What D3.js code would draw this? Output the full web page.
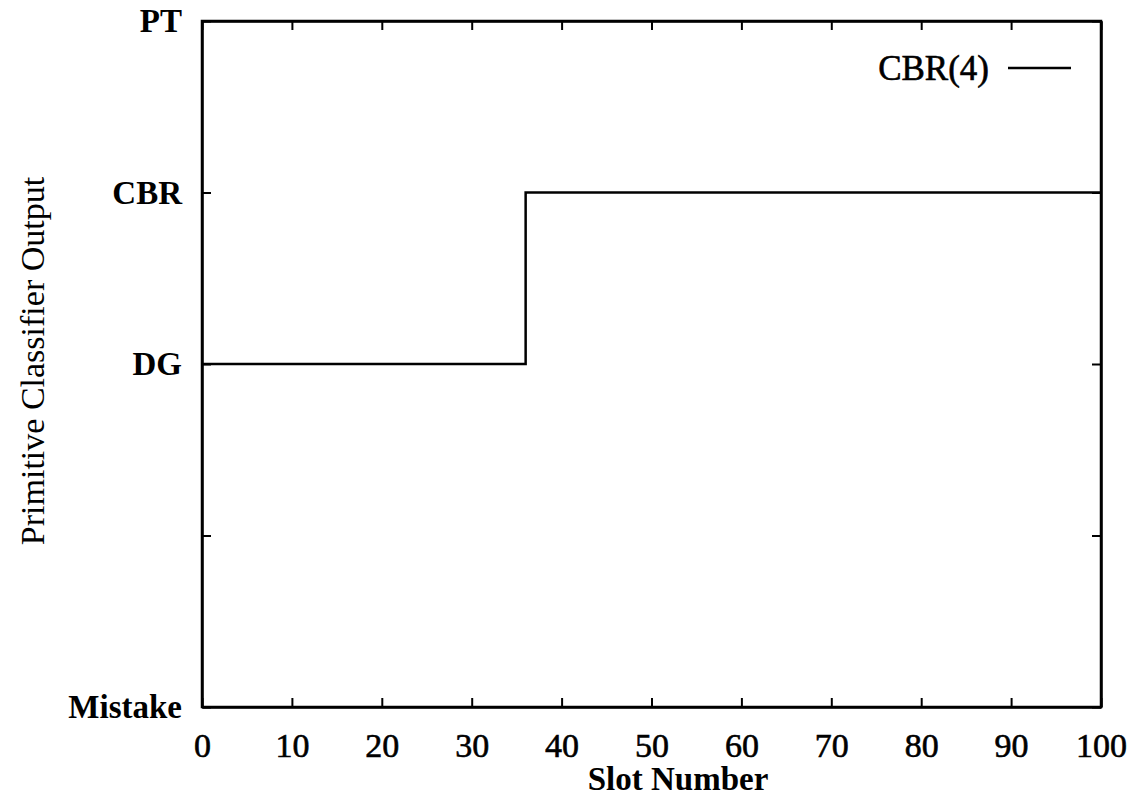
<!DOCTYPE html>
<html>
<head>
<meta charset="utf-8">
<script src="https://cdn.jsdelivr.net/npm/d3@7"></script>
<style>
  body { margin: 0; background: #fff; }
  text { font-family: "Liberation Serif", "Times New Roman", serif; fill: #000; }
</style>
</head>
<body>
<svg id="chart" width="1132" height="793"></svg>
<script>
// step data
const slots = [0, 36, 100];
const levels = [2, 3, 3];
const levelLabels = ["Mistake", "", "DG", "CBR", "PT"];
const xTicks = [0, 10, 20, 30, 40, 50, 60, 70, 80, 90, 100];
const seriesName = "CBR(4)";

const svg = d3.select("#chart");
const margin = { left: 202, right: 31, top: 21, bottom: 86 };
const width = +svg.attr("width");
const height = +svg.attr("height");
const innerWidth = width - margin.left - margin.right;
const innerHeight = height - margin.top - margin.bottom;

const x = d3.scaleLinear().domain([0, 100]).range([0, innerWidth]);
const y = d3.scaleLinear().domain([0, 4]).range([innerHeight, 0]);

const g = svg.append("g").attr("transform", "translate(" + margin.left + "," + margin.top + ")");

// bottom axis with labels
const xb = g.append("g")
    .attr("transform", "translate(0," + innerHeight + ")")
    .call(d3.axisBottom(x).tickValues(xTicks).tickSizeInner(-9).tickSizeOuter(0).tickPadding(26));
xb.selectAll("text").attr("font-size", 34).attr("stroke", "#000").attr("stroke-width", 0.6);

// top ticks only
g.append("g")
    .call(d3.axisTop(x).tickValues(xTicks).tickSizeInner(-9).tickSizeOuter(0))
  .selectAll("text").remove();

// left axis with category labels
const yl = g.append("g")
    .call(d3.axisLeft(y).tickValues([0, 1, 2, 3, 4]).tickSizeInner(-9).tickSizeOuter(0)
      .tickPadding(20).tickFormat(function(d) { return levelLabels[d]; }));
yl.selectAll("text").attr("font-size", 33).attr("font-weight", "bold");
yl.selectAll("text").filter(function(d) { return levelLabels[d] === ""; }).remove();

// right ticks only
g.append("g")
    .attr("transform", "translate(" + innerWidth + ",0)")
    .call(d3.axisRight(y).tickValues([0, 1, 2, 3, 4]).tickSizeInner(-9).tickSizeOuter(0))
  .selectAll("text").remove();

g.selectAll(".domain").attr("stroke-width", 2.5);
g.selectAll(".tick line").attr("stroke-width", 2);

// frame
g.append("rect")
    .attr("width", innerWidth).attr("height", innerHeight)
    .attr("fill", "none").attr("stroke", "#000").attr("stroke-width", 2.5);

// series
const line = d3.line()
    .x(function(d, i) { return x(slots[i]); })
    .y(function(d) { return y(d); })
    .curve(d3.curveStepAfter);

g.append("path")
    .datum(levels)
    .attr("fill", "none")
    .attr("stroke", "#000")
    .attr("stroke-width", 2.5)
    .attr("d", line);

// legend
const leg = g.append("g").attr("transform", "translate(" + (innerWidth - 30) + ",47)");
leg.append("line").attr("x1", -63).attr("x2", 0).attr("stroke", "#000").attr("stroke-width", 2.5);
leg.append("text")
    .attr("x", -82).attr("dy", "0.35em")
    .attr("text-anchor", "end")
    .attr("font-size", 35)
    .attr("stroke", "#000").attr("stroke-width", 0.6)
    .text(seriesName);

// axis titles
svg.append("text")
    .attr("x", 678).attr("y", 790)
    .attr("text-anchor", "middle")
    .attr("font-size", 33).attr("font-weight", "bold")
    .text("Slot Number");

svg.append("text")
    .attr("transform", "translate(44,361) rotate(-90)")
    .attr("text-anchor", "middle")
    .attr("font-size", 34)
    .text("Primitive Classifier Output");
</script>
</body>
</html>
